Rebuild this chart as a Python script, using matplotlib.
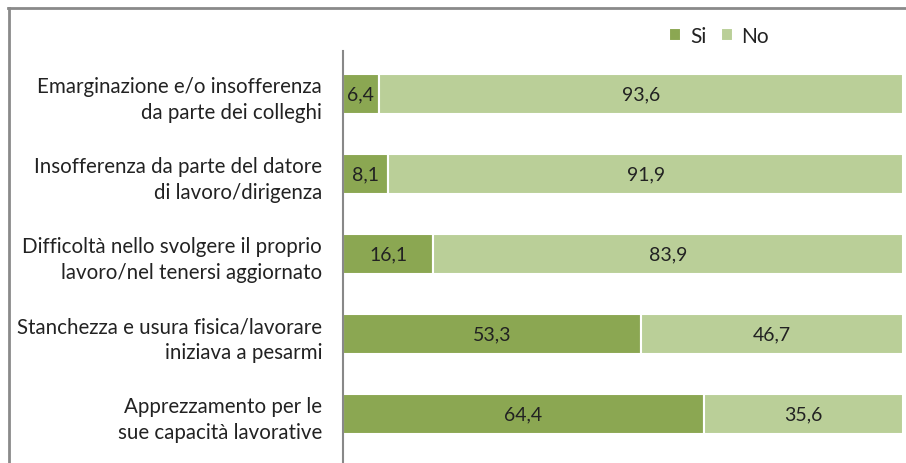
import matplotlib
matplotlib.use("Agg")
import matplotlib.pyplot as plt
from matplotlib.lines import Line2D

categories = [
    "Emarginazione e/o insofferenza\nda parte dei colleghi",
    "Insofferenza da parte del datore\ndi lavoro/dirigenza",
    "Difficoltà nello svolgere il proprio\nlavoro/nel tenersi aggiornato",
    "Stanchezza e usura fisica/lavorare\niniziava a pesarmi",
    "Apprezzamento per le\nsue capacità lavorative",
]
si = [6.4, 8.1, 16.1, 53.3, 64.4]
no = [93.6, 91.9, 83.9, 46.7, 35.6]
series_names = ["Si", "No"]

c_si = "#8BA752"
c_no = "#BACF98"

plt.rcParams['font.family'] = ['Lato', 'DejaVu Sans']

W, H = 906, 464
fig = plt.figure(figsize=(W/100, H/100), dpi=100)

left, right, top, bottom = 343, 903, 52, 464
ax = fig.add_axes([left/W, 1-bottom/H, (right-left)/W, (bottom-top)/H])

ypos = list(range(len(categories)))
ax.barh(ypos, si, height=0.5, color=c_si, edgecolor="white", linewidth=1.5, label=series_names[0])
ax.barh(ypos, no, left=si, height=0.5, color=c_no, edgecolor="white", linewidth=1.5, label=series_names[1])

for i in ypos:
    ax.text(si[i]/2, i, f"{si[i]:.1f}".replace(".", ","), ha="center", va="center", fontsize=14, color="#222222")
    ax.text(si[i] + no[i]/2, i, f"{no[i]:.1f}".replace(".", ","), ha="center", va="center", fontsize=14, color="#222222")

ax.set_xlim(0, 100)
ax.set_ylim((464-95)/80, (52-95)/80)
ax.set_yticks(ypos)
ax.set_yticklabels(categories, fontsize=14.8, color="#222222", linespacing=1.35)
ax.tick_params(axis="y", length=0, pad=15)
ax.set_xticks([])
for s in ["top", "right", "bottom"]:
    ax.spines[s].set_visible(False)
ax.spines["left"].set_color("#888888")
ax.spines["left"].set_linewidth(1.5)

leg = fig.legend(loc="center", bbox_to_anchor=(719/W, 1-37/H), ncol=2, frameon=False,
                 fontsize=15, handlelength=0.6, handleheight=0.6, handletextpad=0.4,
                 columnspacing=0.7)
for t in leg.get_texts():
    t.set_color("#222222")

# figure border (left and top)
fig.add_artist(Line2D([9/W, 9/W], [0, 1-9/H], color="#8a8a8a", linewidth=2, transform=fig.transFigure))
fig.add_artist(Line2D([8/W, 1], [1-9/H, 1-9/H], color="#8a8a8a", linewidth=2, transform=fig.transFigure))

fig.savefig("out.png", dpi=100)
